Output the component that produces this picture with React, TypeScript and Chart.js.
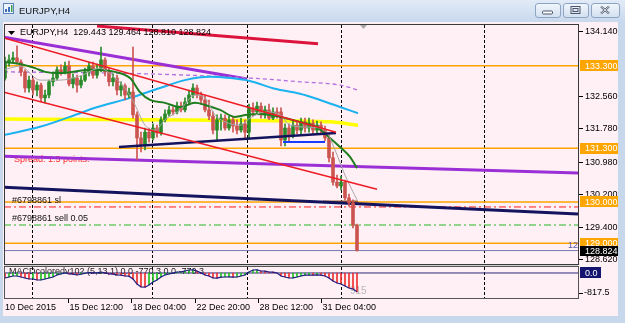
import React, { useEffect, useRef } from 'react';
import { Chart, registerables } from 'chart.js';

Chart.register(...registerables);

const W = 625;
const H = 323;
const FONT = '"Liberation Sans", Arial, sans-serif';

// ---------------- data ----------------
const opens = [
  133.00, 133.39, 133.44, 133.49, 133.39, 133.15, 132.76, 132.95, 132.71, 132.83,
  132.52, 132.59, 132.91, 133.00, 133.20, 133.15, 133.29, 132.86, 133.00, 132.83,
  132.95, 133.15, 133.29, 133.07, 133.20, 133.44, 133.15, 132.91, 133.00, 132.71,
  132.81, 132.59, 132.66, 132.11, 131.55, 131.38, 131.69, 131.55, 131.79, 131.67,
  131.99, 132.13, 132.23, 132.18, 132.32, 132.23, 132.42, 132.59, 132.76, 132.59,
  132.47, 132.23, 132.08, 131.74, 131.99, 132.03, 131.79, 131.99, 131.84, 131.74,
  131.89, 131.69, 132.28, 132.18, 132.32, 132.11, 132.23, 132.03, 132.18, 132.18,
  131.50, 131.79, 131.62, 131.86, 131.74, 131.94, 131.79, 131.91, 131.74, 131.86,
  131.74, 131.55, 131.07, 130.48, 130.39, 130.48, 130.10, 129.98, 129.443,
];
const highs = [
  133.51, 133.56, 133.63, 133.78, 133.44, 133.20, 133.05, 133.00, 132.91, 132.88,
  132.71, 132.95, 133.15, 133.27, 133.32, 133.39, 133.41, 133.10, 133.07, 133.05,
  133.24, 133.39, 133.39, 133.34, 133.75, 133.49, 133.24, 133.10, 133.07, 132.91,
  132.86, 132.76, 133.75, 132.18, 131.69, 131.79, 131.79, 131.89, 131.86, 132.06,
  132.23, 132.32, 132.30, 132.42, 132.42, 132.52, 132.71, 132.86, 132.83, 132.66,
  132.57, 132.47, 132.18, 132.11, 132.13, 132.11, 132.08, 132.06, 131.99, 132.03,
  131.99, 132.37, 132.40, 132.42, 132.40, 132.32, 132.37, 132.28, 132.28, 132.28,
  131.89, 131.89, 131.99, 131.94, 132.03, 132.03, 132.03, 131.99, 131.96, 131.94,
  131.84, 131.62, 131.21, 130.65, 130.63, 130.53, 130.19, 130.05, 129.464,
];
const lows = [
  132.95, 133.29, 133.39, 133.34, 133.05, 132.66, 132.66, 132.59, 132.57, 132.42,
  132.40, 132.52, 132.81, 132.95, 133.07, 133.10, 132.81, 132.76, 132.66, 132.76,
  132.91, 133.05, 133.00, 133.00, 133.15, 133.05, 132.81, 132.81, 132.59, 132.57,
  132.47, 132.52, 132.03, 131.02, 131.21, 131.26, 131.45, 131.50, 131.57, 131.62,
  131.94, 132.08, 132.11, 132.13, 132.18, 132.18, 132.35, 132.52, 132.52, 132.37,
  132.18, 131.99, 131.65, 131.50, 131.74, 131.74, 131.74, 131.69, 131.65, 131.69,
  131.55, 131.55, 132.08, 132.13, 132.03, 132.03, 131.99, 131.99, 132.03, 131.36,
  131.36, 131.45, 131.55, 131.65, 131.65, 131.69, 131.69, 131.65, 131.67, 131.65,
  131.48, 130.97, 130.41, 130.34, 130.29, 130.05, 129.90, 129.37, 128.810,
];
const closes = [
  133.39, 133.44, 133.49, 133.39, 133.15, 132.76, 132.95, 132.71, 132.83, 132.52,
  132.59, 132.91, 133.00, 133.20, 133.15, 133.29, 132.86, 133.00, 132.83, 132.95,
  133.15, 133.29, 133.07, 133.20, 133.44, 133.15, 132.91, 133.00, 132.71, 132.81,
  132.59, 132.66, 132.11, 131.55, 131.38, 131.69, 131.55, 131.79, 131.67, 131.99,
  132.13, 132.23, 132.18, 132.32, 132.23, 132.42, 132.59, 132.76, 132.59, 132.47,
  132.23, 132.08, 131.74, 131.99, 132.03, 131.79, 131.99, 131.84, 131.74, 131.89,
  131.69, 132.28, 132.18, 132.32, 132.11, 132.23, 132.03, 132.18, 132.13, 131.50,
  131.79, 131.62, 131.86, 131.74, 131.94, 131.79, 131.91, 131.74, 131.86, 131.74,
  131.55, 131.07, 130.48, 130.39, 130.48, 130.10, 129.98, 129.44, 128.824,
];
const macdValues = [
  -204, -164, -123, -123, -164, -204, -245, -245, -286, -286,
  -245, -204, -164, -82, -41, 10, -41, -45, -82, -50,
  -10, 20, 5, 8, 41, 10, -35, -45, -82, -90,
  -123, -130, -245, -450, -572, -580, -490, -370, -286, -164,
  -82, -41, -5, 41, 45, 82, 123, 125, 82, 5,
  -82, -123, -204, -210, -170, -164, -160, -168, -164, -123,
  -82, 41, 123, 125, 82, 78, 41, 35, 0, -123,
  -164, -204, -200, -164, -123, -90, -82, -85, -80, -88,
  -123, -204, -327, -410, -450, -531, -613, -654, -770.3,
];

// indicator curves [barIndex, price]
const greenMA = [
  [-0.25, 133.39], [3.75, 133.34], [7.5, 133.24], [10, 133.15], [13.75, 133.12], [21.25, 133.2],
  [27.5, 133.15], [31.25, 133.0], [33.75, 132.66], [36.25, 132.47], [40, 132.4], [43.75, 132.3],
  [47.5, 132.4], [50, 132.35], [53.75, 132.23], [57.5, 132.06], [60.5, 132.11], [63.75, 132.13],
  [68.75, 132.06], [73.75, 131.94], [78.25, 131.79], [81.25, 131.55], [83.75, 131.33],
  [86.25, 131.09], [88, 130.82],
];
const grayMA = [
  [-0.25, 133.2], [3.75, 133.29], [8.75, 132.95], [13.75, 132.95], [18.75, 133.05], [23.75, 133.24],
  [27.5, 133.0], [30, 132.76], [32.5, 132.35], [35, 131.86], [37.5, 131.74], [40, 131.99],
  [43.75, 132.23], [47.5, 132.59], [50, 132.52], [52.5, 132.11], [55, 131.94], [58.75, 131.86],
  [61.25, 132.03], [65, 132.18], [68.75, 132.11], [71.25, 131.86], [76.25, 131.81], [80, 131.74],
  [82.5, 131.26], [85, 130.65], [88, 130.05],
];
const blueMA = [
  [-0.25, 131.62], [8.75, 131.82], [18.75, 132.15], [22.5, 132.28], [31.25, 132.52], [38.75, 132.76],
  [45, 132.95], [51.25, 133.03], [56.25, 133.0], [61.25, 132.93], [67.5, 132.74], [73.75, 132.62],
  [78.75, 132.47], [83.75, 132.3], [88.25, 132.15],
];
const purpleDashMA = [
  [-0.25, 133.15], [36.25, 133.1], [61.25, 133.0], [73.75, 132.91], [83.75, 132.83], [88.25, 132.71],
];
const yellowMA = [[-0.25, 132.01], [73.75, 131.96], [81.25, 131.94], [88.25, 131.86]];

// trend lines [barIndex, price]
const redTopLine = [[23, 134.26], [78.25, 133.83]];
const purpleTopLine = [[-0.25, 133.99], [60.5, 132.98]];
const redUpperChannel = [[-0.25, 133.97], [82.75, 131.69]];
const redLowerChannel = [[-0.25, 132.66], [93, 130.31]];
const navyShortLine = [[28.5, 131.33], [82.75, 131.67]];
const blueShortLine = [[69.5, 131.45], [80, 131.45]];
const navyLongLine = [[-0.25, 130.36], [143.25, 129.71]];
const purpleLongLine = [[-0.25, 131.11], [143.25, 130.7]];
const brownShortLine = [[79.5, 130.01], [88.25, 130.01]];

const levelPrices = [133.3, 131.3, 130.0, 129.0];
const bidPrice = 128.824;
const slPrice = 129.88;
const sellPrice = 129.443;

const priceTicks = [134.14, 132.56, 131.78, 130.98, 130.2, 129.4, 128.62];
const macdTicks = [0, -817.5];
const separatorBars = [6.75, 36.75, 60.5, 84, 119.75];
const xTickBars = [-0.25, 15.75, 31.5, 47.5, 63.25, 79];
const xTickLabels = ['10 Dec 2015', '15 Dec 12:00', '18 Dec 04:00', '22 Dec 20:00', '28 Dec 12:00', '31 Dec 04:00'];

// ---------------- scale ranges ----------------
const X_MIN = -0.25;
const X_MAX = 143.25;
const Y_MIN = 127.676;
const Y_MAX = 134.309;
const Y2_MIN = -1021.9;
const Y2_MAX = 10177.9;

const MAIN_TOP = 24;
const MAIN_BOTTOM = 264;
const SUB_TOP = 266;
const SUB_BOTTOM = 298;

const RED = '#cc5550';
const GREEN = '#2a8a2a';

function pts(arr: number[][]) {
  return arr.map(([x, y]) => ({ x, y }));
}

function lineDs(arr: number[][], color: string, width: number, extra: any = {}) {
  return {
    type: 'line',
    data: pts(arr),
    borderColor: color,
    borderWidth: width,
    pointRadius: 0,
    fill: false,
    xAxisID: 'x',
    yAxisID: 'y',
    order: 4,
    ...extra,
  };
}

function hLine(price: number, color: string, width: number, extra: any = {}) {
  return lineDs([[X_MIN, price], [X_MAX, price]], color, width, { order: 9, ...extra });
}

function roundRect(ctx: CanvasRenderingContext2D, x: number, y: number, w: number, h: number, r: number) {
  ctx.beginPath();
  ctx.moveTo(x + r, y);
  ctx.lineTo(x + w - r, y);
  ctx.quadraticCurveTo(x + w, y, x + w, y + r);
  ctx.lineTo(x + w, y + h - r);
  ctx.quadraticCurveTo(x + w, y + h, x + w - r, y + h);
  ctx.lineTo(x + r, y + h);
  ctx.quadraticCurveTo(x, y + h, x, y + h - r);
  ctx.lineTo(x, y + r);
  ctx.quadraticCurveTo(x, y, x + r, y);
  ctx.closePath();
}

function drawButton(ctx: CanvasRenderingContext2D, x: number, y: number, w: number, h: number, kind: string) {
  const g = ctx.createLinearGradient(0, y, 0, y + h);
  g.addColorStop(0, '#f3f7fc');
  g.addColorStop(1, '#d3e0f0');
  roundRect(ctx, x + 0.5, y + 0.5, w, h, 2.5);
  ctx.fillStyle = g;
  ctx.fill();
  ctx.strokeStyle = '#8ea4c3';
  ctx.lineWidth = 1;
  ctx.stroke();
  const cx = x + w / 2;
  const cy = y + h / 2;
  ctx.strokeStyle = '#4a5568';
  ctx.fillStyle = '#ffffff';
  if (kind === 'min') {
    roundRect(ctx, cx - 5, cy + 1, 10, 3, 1);
    ctx.fill();
    ctx.stroke();
  } else if (kind === 'max') {
    ctx.strokeRect(cx - 4.5, cy - 3.5, 9, 7);
    ctx.strokeRect(cx - 2.5, cy - 1.5, 5, 3);
  } else {
    ctx.lineWidth = 2.2;
    ctx.beginPath();
    ctx.moveTo(cx - 4, cy - 3.5);
    ctx.lineTo(cx + 4, cy + 3.5);
    ctx.moveTo(cx + 4, cy - 3.5);
    ctx.lineTo(cx - 4, cy + 3.5);
    ctx.stroke();
    ctx.strokeStyle = '#ffffff';
    ctx.lineWidth = 0.8;
    ctx.stroke();
  }
}

const decorPlugin = {
  id: 'mt4decor',
  beforeDraw(chart: any) {
    const ctx: CanvasRenderingContext2D = chart.ctx;
    ctx.save();
    ctx.fillStyle = '#c8d8ec';
    ctx.fillRect(0, 0, W, H);
    const g = ctx.createLinearGradient(0, 0, 0, 22);
    g.addColorStop(0, '#e2ebf7');
    g.addColorStop(1, '#c8d8ed');
    ctx.fillStyle = g;
    ctx.fillRect(0, 0, W, 22);
    // icon
    ctx.fillStyle = '#eef4fc';
    ctx.fillRect(3, 3, 11, 11);
    ctx.strokeStyle = '#5d82b8';
    ctx.lineWidth = 1;
    ctx.strokeRect(3.5, 3.5, 10, 10);
    ctx.fillStyle = '#3a6fc0';
    ctx.fillRect(5, 9, 2, 3);
    ctx.fillRect(8, 7, 2, 5);
    ctx.fillStyle = '#3aa04a';
    ctx.fillRect(11, 5, 1.5, 7);
    // title
    ctx.fillStyle = '#111';
    ctx.font = '9.5px ' + FONT;
    ctx.textBaseline = 'middle';
    ctx.textAlign = 'left';
    ctx.fillText('EURJPY,H4', 19, 11);
    drawButton(ctx, 535, 3, 25, 14, 'min');
    drawButton(ctx, 563, 3, 25, 14, 'max');
    drawButton(ctx, 591, 3, 28, 14, 'close');
    // content
    ctx.fillStyle = '#fff0f5';
    ctx.fillRect(3, 22, 615, 294);
    ctx.fillStyle = '#cfcfd4';
    ctx.fillRect(4, MAIN_BOTTOM, 574, SUB_TOP - MAIN_BOTTOM);
    ctx.restore();
  },
  beforeDatasetsDraw(chart: any) {
    const ctx: CanvasRenderingContext2D = chart.ctx;
    const xs = chart.scales.x;
    ctx.save();
    ctx.strokeStyle = '#000';
    ctx.lineWidth = 1;
    ctx.setLineDash([3, 2]);
    separatorBars.forEach((b) => {
      const px = Math.round(xs.getPixelForValue(b)) + 0.5;
      ctx.beginPath();
      ctx.moveTo(px, MAIN_TOP + 1);
      ctx.lineTo(px, MAIN_BOTTOM);
      ctx.moveTo(px, SUB_TOP + 1);
      ctx.lineTo(px, SUB_BOTTOM);
      ctx.stroke();
    });
    ctx.setLineDash([]);
    ctx.font = '9px ' + FONT;
    ctx.textBaseline = 'middle';
    ctx.fillStyle = '#ff2a2a';
    ctx.fillText('Spread: 1.5 points.', 14, 160);
    ctx.fillStyle = '#1a1a1a';
    ctx.fillText('MACDcoloredv102 (5,13,1) 0.0 -770.3 0.0 -770.3', 9, 272);
    ctx.fillStyle = '#b8b8b8';
    ctx.font = '10px ' + FONT;
    ctx.fillText('915', 350, 291);
    ctx.restore();
  },
  afterDatasetsDraw(chart: any) {
    const ctx: CanvasRenderingContext2D = chart.ctx;
    const ys = chart.scales.y;
    ctx.save();
    // boxes
    ctx.strokeStyle = '#3a3a3a';
    ctx.lineWidth = 1;
    ctx.strokeRect(4.5, MAIN_TOP + 0.5, 574, MAIN_BOTTOM - MAIN_TOP);
    ctx.strokeStyle = '#555';
    ctx.strokeRect(4.5, SUB_TOP + 0.5, 574, SUB_BOTTOM - SUB_TOP);
    // header
    ctx.fillStyle = '#000';
    ctx.beginPath();
    ctx.moveTo(8, 31);
    ctx.lineTo(15, 31);
    ctx.lineTo(11.5, 35);
    ctx.closePath();
    ctx.fill();
    ctx.font = '9px ' + FONT;
    ctx.textBaseline = 'middle';
    ctx.textAlign = 'left';
    ctx.fillText('EURJPY,H4  129.443 129.464 128.810 128.824', 20, 33);
    ctx.fillStyle = '#a8a8a8';
    ctx.beginPath();
    ctx.moveTo(360, 25);
    ctx.lineTo(367, 25);
    ctx.lineTo(363.5, 29);
    ctx.closePath();
    ctx.fill();
    // order labels
    ctx.fillStyle = '#111';
    ctx.fillText('#6798861 sl', 12, ys.getPixelForValue(slPrice) - 6);
    ctx.fillText('#6798861 sell 0.05', 12, ys.getPixelForValue(sellPrice) - 6);
    ctx.fillStyle = '#5a5aa8';
    ctx.fillText('12', 568, 246);
    ctx.restore();
  },
  afterDraw(chart: any) {
    const ctx: CanvasRenderingContext2D = chart.ctx;
    const xs = chart.scales.x;
    const ys = chart.scales.y;
    const y2 = chart.scales.y2;
    ctx.save();
    ctx.font = '9px ' + FONT;
    ctx.textBaseline = 'middle';
    ctx.textAlign = 'left';
    ctx.strokeStyle = '#000';
    ctx.lineWidth = 1;
    priceTicks.forEach((v) => {
      const py = Math.round(ys.getPixelForValue(v)) + 0.5;
      ctx.beginPath();
      ctx.moveTo(579, py);
      ctx.lineTo(583, py);
      ctx.stroke();
      ctx.fillStyle = '#000';
      ctx.fillText(v.toFixed(3), 585, py);
    });
    levelPrices.forEach((v) => {
      const py = ys.getPixelForValue(v);
      ctx.fillStyle = '#ffa500';
      ctx.fillRect(580, Math.round(py - 5.5), 38, 11);
      ctx.fillStyle = '#ffffff';
      ctx.fillText(v.toFixed(3), 585, py + 0.5);
    });
    {
      const py = ys.getPixelForValue(bidPrice);
      ctx.fillStyle = '#000';
      ctx.fillRect(580, Math.round(py - 4.5), 38, 10);
      ctx.fillStyle = '#fff';
      ctx.fillText(bidPrice.toFixed(3), 585, py + 0.5);
    }
    macdTicks.forEach((v) => {
      const py = y2.getPixelForValue(v);
      if (v === 0) {
        ctx.fillStyle = '#14146e';
        ctx.fillRect(580, Math.round(py - 5.5), 21, 11);
        ctx.fillStyle = '#fff';
        ctx.fillText('0.0', 585, py + 0.5);
      } else {
        ctx.fillStyle = '#000';
        ctx.beginPath();
        ctx.moveTo(579, Math.round(py) + 0.5);
        ctx.lineTo(583, Math.round(py) + 0.5);
        ctx.stroke();
        ctx.fillText(v.toFixed(1), 584, py);
      }
    });
    xTickBars.forEach((b, i) => {
      const px = Math.round(xs.getPixelForValue(b)) + 0.5;
      if (i > 0) {
        ctx.beginPath();
        ctx.moveTo(px, SUB_BOTTOM + 1);
        ctx.lineTo(px, SUB_BOTTOM + 5);
        ctx.stroke();
      }
      ctx.fillStyle = '#000';
      ctx.fillText(xTickLabels[i], px + (i === 0 ? 0.5 : 1), 308);
    });
    ctx.restore();
  },
};

export default function App() {
  const ref = useRef<HTMLCanvasElement>(null);
  useEffect(() => {
    const canvas = ref.current;
    if (!canvas) return;
    const idx = closes.map((_, i) => i);
    const candleColors = idx.map((i) => (closes[i] >= opens[i] ? GREEN : RED));
    const macdColors = macdValues.map((v, i) => (i > 0 && v >= macdValues[i - 1] ? '#20c020' : '#f03030'));
    const datasets: any[] = [
      hLine(levelPrices[0], '#ffa500', 1.5),
      hLine(levelPrices[1], '#ffa500', 1.5),
      hLine(levelPrices[2], '#ffa500', 1.5),
      hLine(levelPrices[3], '#ffa500', 1.5),
      hLine(slPrice, '#ff1a1a', 1, { borderDash: [7, 3, 2, 3] }),
      hLine(sellPrice, '#22b822', 1, { borderDash: [7, 3, 2, 3] }),
      hLine(bidPrice, '#7878a8', 1),
      lineDs(purpleLongLine, '#9b2fd6', 3, { order: 6 }),
      lineDs(navyLongLine, '#14145e', 3, { order: 6 }),
      lineDs(brownShortLine, '#a0622d', 2, { order: 6 }),
      lineDs(blueMA, '#1cb2f0', 2, { cubicInterpolationMode: 'monotone', order: 6 }),
      lineDs(purpleDashMA, '#b070e0', 1.3, { borderDash: [4, 3], cubicInterpolationMode: 'monotone', order: 6 }),
      lineDs(yellowMA, '#ffff00', 3.5, { cubicInterpolationMode: 'monotone', order: 6 }),
      lineDs(purpleTopLine, '#9b2fd6', 3, { order: 6 }),
      {
        type: 'bar',
        data: idx.map((i) => ({ x: i, y: [lows[i], highs[i]] })),
        backgroundColor: candleColors,
        barThickness: 1,
        grouped: false,
        xAxisID: 'x',
        yAxisID: 'y',
        order: 5,
      },
      {
        type: 'bar',
        data: idx.map((i) => ({ x: i, y: [opens[i], closes[i]] })),
        backgroundColor: candleColors,
        barThickness: 3,
        minBarLength: 1,
        grouped: false,
        xAxisID: 'x',
        yAxisID: 'y',
        order: 5,
      },
      lineDs(grayMA, '#a8a8a8', 1, { cubicInterpolationMode: 'monotone', order: 3 }),
      lineDs(greenMA, '#1e7d1e', 2, { cubicInterpolationMode: 'monotone', order: 3 }),
      lineDs(redTopLine, '#dc143c', 3, { order: 2 }),
      lineDs(redUpperChannel, '#ee1c24', 1.5, { order: 2 }),
      lineDs(redLowerChannel, '#ee1c24', 1.5, { order: 2 }),
      lineDs(navyShortLine, '#14145e', 2.5, { order: 2 }),
      lineDs(blueShortLine, '#1a3cff', 2, { order: 2 }),
      {
        type: 'line',
        data: [{ x: X_MIN, y: 0 }, { x: X_MAX, y: 0 }],
        borderColor: '#2a2a7a',
        borderWidth: 1,
        pointRadius: 0,
        xAxisID: 'x',
        yAxisID: 'y2',
        order: 8,
      },
      {
        type: 'bar',
        data: macdValues.map((v, i) => ({ x: i, y: v })),
        backgroundColor: macdColors,
        barThickness: 1,
        grouped: false,
        xAxisID: 'x',
        yAxisID: 'y2',
        order: 7,
      },
      {
        type: 'line',
        data: macdValues.map((v, i) => ({ x: i, y: v })),
        borderColor: '#1a1a80',
        borderWidth: 1.2,
        pointRadius: 0,
        xAxisID: 'x',
        yAxisID: 'y2',
        order: 6,
      },
    ];
    const chart = new Chart(canvas, {
      type: 'bar',
      data: { datasets },
      options: {
        responsive: false,
        animation: false,
        events: [],
        layout: { padding: { left: 4, top: MAIN_TOP, right: W - 578, bottom: H - SUB_BOTTOM } },
        plugins: { legend: { display: false }, tooltip: { enabled: false } },
        scales: {
          x: { type: 'linear', min: X_MIN, max: X_MAX, offset: false, display: false },
          y: { type: 'linear', min: Y_MIN, max: Y_MAX, display: false },
          y2: { type: 'linear', min: Y2_MIN, max: Y2_MAX, display: false },
        },
      } as any,
      plugins: [decorPlugin],
    } as any);
    return () => chart.destroy();
  }, []);
  return (
    <div style={{ position: 'fixed', left: 0, top: 0, width: W, height: H, margin: 0 }}>
      <style>{'body{margin:0}'}</style>
      <canvas ref={ref} width={W} height={H} style={{ width: W, height: H, display: 'block' }} />
    </div>
  );
}
